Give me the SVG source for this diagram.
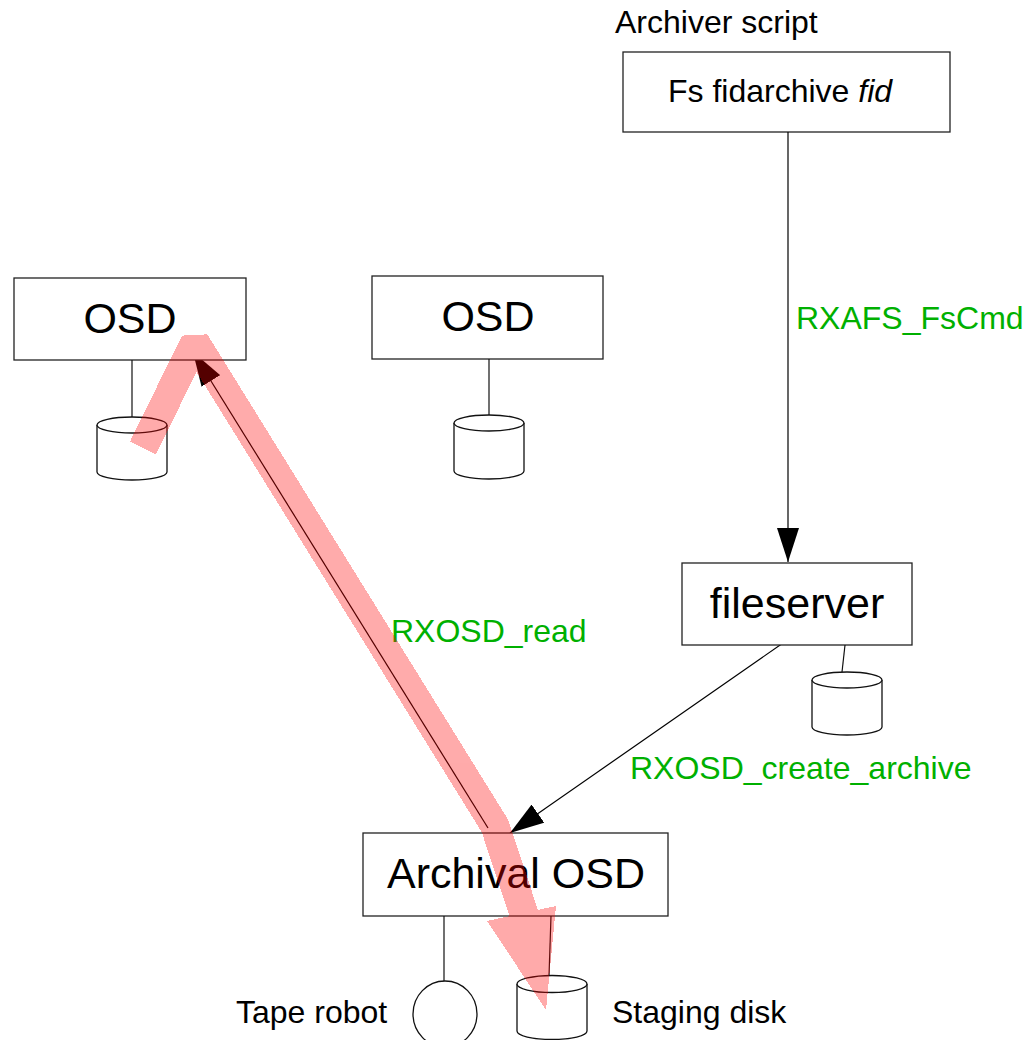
<svg xmlns="http://www.w3.org/2000/svg" width="1028" height="1040" viewBox="0 0 1028 1040">
  <style>
    text { font-family: "Liberation Sans", Arial, sans-serif; fill: #000; }
    .big { font-size: 43px; text-anchor: middle; }
    .lbl { font-size: 32px; }
    .call { font-size: 32px; fill: #00b000; }
    .box { fill: #fff; stroke: #222; stroke-width: 1.3; }
    .disk { fill: #fff; stroke: #111; stroke-width: 1.3; }
    .wire { fill: none; stroke: #111; stroke-width: 1.2; }
    .edge { fill: none; stroke: #000; stroke-width: 1.2; }
  </style>
  <defs>
    <marker id="head" viewBox="0 0 34 22" refX="34" refY="11" markerWidth="34" markerHeight="22" markerUnits="userSpaceOnUse" orient="auto">
      <path d="M0,0 L34,11 L0,22 z" fill="#000"/>
    </marker>
  </defs>

  <rect width="1028" height="1040" fill="#fff"/>

  <!-- archiver script -->
  <g id="archiver">
    <text class="lbl" x="615" y="33">Archiver script</text>
    <rect class="box" x="623" y="52" width="327" height="80"/>
    <text class="lbl" x="668" y="102">Fs fidarchive <tspan font-style="italic">fid</tspan></text>
  </g>

  <!-- connectors -->
  <g id="connectors">
    <line class="edge" x1="788" y1="132" x2="788" y2="562" marker-end="url(#head)"/>
    <line class="edge" x1="783" y1="643" x2="510" y2="833" marker-end="url(#head)"/>
    <line class="edge" x1="488" y1="828" x2="193" y2="352" marker-end="url(#head)"/>
    <text class="call" x="796" y="329">RXAFS_FsCmd</text>
    <text class="call" x="391" y="642">RXOSD_read</text>
    <text class="call" x="630" y="779">RXOSD_create_archive</text>
  </g>

  <!-- OSD 1 with its disk -->
  <g id="osd1">
    <rect class="box" x="14" y="278" width="232" height="82"/>
    <text class="big" x="130" y="333">OSD</text>
    <line class="wire" x1="132" y1="360" x2="132" y2="417"/>
    <path class="disk" d="M97,425 v47 a35,8 0 0 0 70,0 v-47"/>
    <ellipse class="disk" cx="132" cy="425" rx="35" ry="8"/>
  </g>

  <!-- OSD 2 with its disk -->
  <g id="osd2">
    <rect class="box" x="372" y="276" width="231" height="83"/>
    <text class="big" x="488" y="331">OSD</text>
    <line class="wire" x1="489" y1="359" x2="489" y2="415"/>
    <path class="disk" d="M454,423 v48 a35,8 0 0 0 70,0 v-48"/>
    <ellipse class="disk" cx="489" cy="423" rx="35" ry="8"/>
  </g>

  <!-- fileserver with its disk -->
  <g id="fileserver">
    <rect class="box" x="682" y="563" width="230" height="82"/>
    <text class="big" x="797" y="618">fileserver</text>
    <line class="wire" x1="845" y1="645" x2="842" y2="672"/>
    <path class="disk" d="M812,680 v47 a35,8 0 0 0 70,0 v-47"/>
    <ellipse class="disk" cx="847" cy="680" rx="35" ry="8"/>
  </g>

  <!-- archival OSD -->
  <g id="archival">
    <rect class="box" x="363" y="833" width="305" height="83"/>
    <text class="big" x="516" y="888">Archival OSD</text>
  </g>

  <!-- tape robot -->
  <g id="tape">
    <line class="wire" x1="444" y1="916" x2="444" y2="981"/>
    <ellipse class="disk" cx="445" cy="1014" rx="32" ry="33"/>
    <text class="lbl" x="236" y="1023">Tape robot</text>
  </g>

  <!-- staging disk -->
  <g id="staging">
    <line class="wire" x1="551" y1="916" x2="549" y2="976"/>
    <path class="disk" d="M517,984 v47 a35,8.5 0 0 0 70,0 v-47"/>
    <ellipse class="disk" cx="552" cy="984" rx="35" ry="8.5"/>
    <text class="lbl" x="612" y="1023">Staging disk</text>
  </g>

  <!-- data flow highlight -->
  <g id="flow" opacity="0.33" shape-rendering="crispEdges">
    <path d="M143,448 L195,342 L495,826 L524,914" fill="none" stroke="#f00" stroke-width="29" stroke-linejoin="bevel"/>
    <polygon points="487,921 556,906 546,1010" fill="#f00"/>
  </g>
</svg>
